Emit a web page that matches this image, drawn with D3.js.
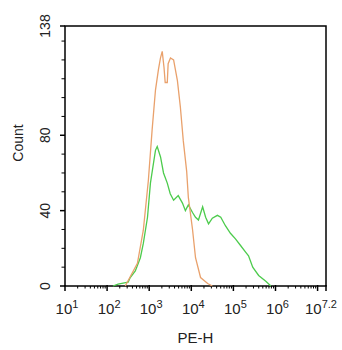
<!DOCTYPE html>
<html>
<head>
<meta charset="utf-8">
<script src="https://cdn.jsdelivr.net/npm/d3@7"></script>
<style>
  body { margin: 0; background: #fff; }
</style>
</head>
<body>
<div id="myChart"></div>
<script>
// histogram data (PE-H channel value, count)
var orangeX = [270, 525, 725, 955, 1175, 1410, 1660, 1850, 2040, 2250, 2400, 2690, 2820, 3200, 3800, 4680, 5500, 6460, 7760, 8510, 10700, 12600, 16600, 24500, 31600];
var orangeY = [0, 12, 29.6, 56, 83, 104, 115, 121, 124.5, 116, 108, 108, 118, 121, 120, 109, 95, 77, 61, 47, 30, 15, 4.5, 1.3, 0];

var greenX = [138, 182, 240, 316, 355, 468, 617, 725, 912, 1070, 1260, 1410, 1550, 1860, 2190, 2690, 3160, 3800, 4900, 6170, 7240, 8510, 10700, 12600, 14800, 18600, 21900, 25700, 31600, 41700, 50100, 64600, 85100, 112000, 148000, 195000, 229000, 288000, 398000, 589000, 776000];
var greenY = [0, 1, 1.5, 2, 4.5, 8, 15, 22.6, 36.5, 54.6, 65, 72, 74, 68.5, 60, 54.6, 49, 45.5, 48, 44, 40, 43, 39, 36.5, 35, 42, 36.5, 33, 36, 37.5, 36.5, 32, 28, 25, 21.5, 18, 16, 10, 5.6, 2.5, 0];

var yTicks = [0, 40, 80, 138];
var yMinor = [10, 20, 30, 50, 60, 70, 90, 100, 110, 120, 130];
var xExps = [1, 2, 3, 4, 5, 6, 7, 7.2];
var xLabelExps = [1, 2, 3, 4, 5, 6, 7.2];
var xLabels = ["1", "2", "3", "4", "5", "6", "7.2"];

var margin = {top: 26, right: 16, bottom: 64, left: 65},
    width = 342 - margin.left - margin.right,
    height = 350 - margin.top - margin.bottom;

var svg = d3.select("#myChart")
  .append("svg")
    .attr("width", 342)
    .attr("height", 350)
  .append("g")
    .attr("transform", "translate(" + margin.left + "," + margin.top + ")");

var x = d3.scaleLog()
  .domain([10, Math.pow(10, 7.2)])
  .range([0, width]);

var y = d3.scaleLinear()
  .domain([0, 138])
  .range([height, 0]);

// minor x ticks: 2..9 x 10^n
var minorX = [];
for (var e = 1; e < 8; e++) {
  for (var m = 2; m < 10; m++) minorX.push(m * Math.pow(10, e));
}
minorX = minorX.filter(function(v) { return v < Math.pow(10, 7.2); });

var font = "Liberation Sans, Arial, sans-serif";

// frame
svg.append("rect")
  .attr("x", 0).attr("y", 0)
  .attr("width", width).attr("height", height)
  .attr("fill", "none")
  .attr("stroke", "#000")
  .attr("stroke-width", 1.5);

// x ticks
svg.selectAll("xminor")
  .data(minorX)
  .enter()
  .append("line")
    .attr("x1", function(d) { return x(d); })
    .attr("x2", function(d) { return x(d); })
    .attr("y1", height)
    .attr("y2", height + 2.5)
    .attr("stroke", "#000")
    .attr("stroke-width", 1);

svg.selectAll("xmajor")
  .data(xExps)
  .enter()
  .append("line")
    .attr("x1", function(d) { return x(Math.pow(10, d)); })
    .attr("x2", function(d) { return x(Math.pow(10, d)); })
    .attr("y1", height - 1)
    .attr("y2", height + 5)
    .attr("stroke", "#000")
    .attr("stroke-width", 1.5);

var xl = svg.selectAll("xlabel")
  .data(xLabelExps)
  .enter()
  .append("text")
    .attr("x", function(d, i) { return x(Math.pow(10, d)) + (i == xLabelExps.length - 1 ? -5 : 2); })
    .attr("y", height + 28)
    .attr("text-anchor", "middle")
    .attr("font-family", font)
    .attr("font-size", "15px")
    .attr("fill", "#222");
xl.append("tspan").text("10");
xl.append("tspan")
  .attr("dy", "-6")
  .attr("font-size", "11px")
  .text(function(d, i) { return xLabels[i]; });

// y ticks
svg.selectAll("yminor")
  .data(yMinor)
  .enter()
  .append("line")
    .attr("x1", -3.5)
    .attr("x2", 0)
    .attr("y1", function(d) { return y(d); })
    .attr("y2", function(d) { return y(d); })
    .attr("stroke", "#000")
    .attr("stroke-width", 1);

svg.selectAll("ymajor")
  .data(yTicks)
  .enter()
  .append("line")
    .attr("x1", -5)
    .attr("x2", 0)
    .attr("y1", function(d) { return y(d); })
    .attr("y2", function(d) { return y(d); })
    .attr("stroke", "#000")
    .attr("stroke-width", 1.5);

svg.selectAll("ylabel")
  .data(yTicks)
  .enter()
  .append("text")
    .attr("transform", function(d) { return "translate(-15," + y(d) + ") rotate(-90)"; })
    .attr("text-anchor", "middle")
    .attr("font-family", font)
    .attr("font-size", "14px")
    .attr("fill", "#222")
    .text(function(d) { return d; });

// axis titles
svg.append("text")
  .attr("transform", "translate(-42," + (height / 2 - 13) + ") rotate(-90)")
  .attr("text-anchor", "middle")
  .attr("font-family", font)
  .attr("font-size", "14px")
  .attr("fill", "#222")
  .text("Count");

svg.append("text")
  .attr("x", width / 2)
  .attr("y", height + 57)
  .attr("text-anchor", "middle")
  .attr("font-family", font)
  .attr("font-size", "15px")
  .attr("fill", "#222")
  .text("PE-H");

// histogram lines
var line = d3.line()
  .x(function(d) { return x(d[0]); })
  .y(function(d) { return y(d[1]); });

svg.append("path")
  .datum(greenX.map(function(v, i) { return [v, greenY[i]]; }))
  .attr("d", line)
  .attr("fill", "none")
  .attr("stroke", "#4ccb4c")
  .attr("stroke-width", 1.3);

svg.append("path")
  .datum(orangeX.map(function(v, i) { return [v, orangeY[i]]; }))
  .attr("d", line)
  .attr("fill", "none")
  .attr("stroke", "#e9a16c")
  .attr("stroke-width", 1.3);
</script>
</body>
</html>
